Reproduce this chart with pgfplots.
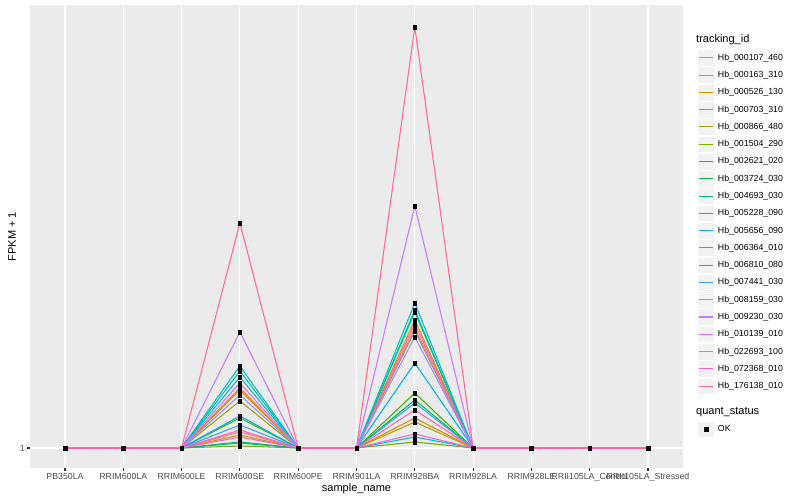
\documentclass[border=0pt]{standalone}
\usepackage{fontspec}
\setmainfont{Liberation Sans}
\usepackage{pgfplots}
\usepackage{pgfplotstable}
\pgfplotsset{compat=1.18}
\definecolor{panelbg}{HTML}{EBEBEB}
\definecolor{keybg}{HTML}{F2F2F2}
\definecolor{tickc}{HTML}{333333}
\definecolor{ticklab}{HTML}{4D4D4D}
\definecolor{c1}{HTML}{F8766D}
\definecolor{c2}{HTML}{EA8331}
\definecolor{c3}{HTML}{D89000}
\definecolor{c4}{HTML}{C09B00}
\definecolor{c5}{HTML}{A3A500}
\definecolor{c6}{HTML}{7CAE00}
\definecolor{c7}{HTML}{39B600}
\definecolor{c8}{HTML}{00BB4E}
\definecolor{c9}{HTML}{00BF7D}
\definecolor{c10}{HTML}{00C1A3}
\definecolor{c11}{HTML}{00BFC4}
\definecolor{c12}{HTML}{00BAE0}
\definecolor{c13}{HTML}{00B0F6}
\definecolor{c14}{HTML}{35A2FF}
\definecolor{c15}{HTML}{9590FF}
\definecolor{c16}{HTML}{C77CFF}
\definecolor{c17}{HTML}{E76BF3}
\definecolor{c18}{HTML}{FA62DB}
\definecolor{c19}{HTML}{FF62BC}
\definecolor{c20}{HTML}{FF6C91}
\pgfplotstableread{
x g1 g2 g3 g4 g5 g6 g7 g8 g9 g10 g11 g12 g13 g14 g15 g16 g17 g18 g19 g20
0 1 1 1 1 1 1 1 1 1 1 1 1 1 1 1 1 1 1 1 1
1 1 1 1 1 1 1 1 1 1 1 1 1 1 1 1 1 1 1 1 1
2 1 1 1 1 1 1 1 1 1 1 1 1 1 1 1 1 1 1 1 1
3 2.6 7.0 6.8 2.3 5.7 1.2 4.0 1.6 1.5 8.7 9.2 8.1 4.2 3.3 6.3 12.6 7.5 2.1 2.8 23.5
4 1 1 1 1 1 1 1 1 1 1 1 1 1 1 1 1 1 1 1 1
5 1 1 1 1 1 1 1 1 1 1 1 1 1 1 1 1 1 1 1 1
6 13.4 13.8 4.0 3.6 12.7 1.6 6.5 5.8 14.6 14.8 15.5 2.1 9.5 5.5 12.1 25.2 13.0 2.4 4.8 43.1
7 1 1 1 1 1 1 1 1 1 1 1 1 1 1 1 1 1 1 1 1
8 1 1 1 1 1 1 1 1 1 1 1 1 1 1 1 1 1 1 1 1
9 1 1 1 1 1 1 1 1 1 1 1 1 1 1 1 1 1 1 1 1
10 1 1 1 1 1 1 1 1 1 1 1 1 1 1 1 1 1 1 1 1
}\data
\begin{document}
\begin{tikzpicture}
\useasboundingbox[fill=white] (0pt,0pt) rectangle (800pt,500pt);
\begin{axis}[
  at={(30pt,32pt)}, anchor=south west,
  scale only axis, width=653pt, height=463pt,
  xmin=-0.6, xmax=10.6, ymin=-1.0, ymax=45.3,
  axis background/.style={fill=panelbg},
  axis line style={draw=none},
  xtick={0,...,10},
  xticklabels={PB350LA,RRIM600LA,RRIM600LE,RRIM600SE,RRIM600PE,RRIM901LA,RRIM928BA,RRIM928LA,RRIM928LE,RRII105LA\_Control,RRII105LA\_Stressed},
  ytick={1}, yticklabels={1},
  xtick pos=bottom, ytick pos=left,
  tick align=outside, major tick length=2.75pt,
  tick style={color=tickc, line width=1.07pt},
  grid=major, major grid style={white, line width=1.07pt},
  ticklabel style={font=\fontsize{8.8}{10}\selectfont, text=ticklab},
  xticklabel style={inner sep=0pt, yshift=-2.2pt},
  yticklabel style={inner sep=0pt, xshift=-2.2pt},
  xlabel={sample\_name}, ylabel={FPKM + 1},
  label style={font=\fontsize{11}{12}\selectfont},
  xlabel style={at={(axis description cs:0.5,-0.0443)}, anchor=center, inner sep=0pt},
  ylabel style={at={(axis description cs:-0.0276,0.5)}, anchor=center, inner sep=0pt},
  legend style={at={(1.0214,0.905)}, anchor=north west, draw=none, fill=none,
    inner sep=0pt, row sep=0pt, column sep=3pt,
    font=\fontsize{8.8}{10}\selectfont, nodes={inner sep=0pt}},
  legend cell align=left,
  legend image code/.code={
    \fill[fill=keybg, draw=white, line width=0.5pt] (0pt,-8.39pt) rectangle (17.28pt,8.39pt);
    \draw[line width=1.07pt] (1.73pt,0pt) -- (15.55pt,0pt);
  },
  legend entries={Hb\_000107\_460,Hb\_000163\_310,Hb\_000526\_130,Hb\_000703\_310,Hb\_000866\_480,Hb\_001504\_290,Hb\_002621\_020,Hb\_003724\_030,Hb\_004693\_030,Hb\_005228\_090,Hb\_005656\_090,Hb\_006364\_010,Hb\_006810\_080,Hb\_007441\_030,Hb\_008159\_030,Hb\_009230\_030,Hb\_010139\_010,Hb\_022693\_100,Hb\_072368\_010,Hb\_176138\_010},
]
\pgfplotsinvokeforeach{1,...,20}{
  \addplot[color=c#1, line width=1.07pt, mark=none] table[x=x, y=g#1] {\data};
}
\pgfplotsinvokeforeach{1,...,20}{
  \addplot[forget plot, only marks, mark=square*, mark size=1.8pt, black] table[x=x, y=g#1] {\data};
}
\end{axis}
\begin{axis}[
  at={(0pt,0pt)}, anchor=south west, hide axis,
  scale only axis, width=1pt, height=1pt,
  xmin=0, xmax=1, ymin=0, ymax=1,
  legend style={at={(697pt,79.64pt)}, anchor=north west, draw=none, fill=none,
    inner sep=0pt, row sep=0pt, column sep=3pt,
    font=\fontsize{8.8}{10}\selectfont, nodes={inner sep=0pt}},
  legend cell align=left,
  legend image code/.code={
    \fill[fill=keybg, draw=white, line width=0.5pt] (0pt,-8.39pt) rectangle (17.28pt,8.39pt);
    \draw plot coordinates {(8.64pt,0pt)};
  },
]
\addlegendimage{only marks, mark=square*, mark size=1.8pt, black}
\addlegendentry{OK}
\end{axis}
\node[anchor=west, inner sep=0pt, font=\fontsize{11}{12}\selectfont] at (696pt,460pt) {tracking\_id};
\node[anchor=west, inner sep=0pt, font=\fontsize{11}{12}\selectfont] at (696pt,88pt) {quant\_status};
\end{tikzpicture}
\end{document}
